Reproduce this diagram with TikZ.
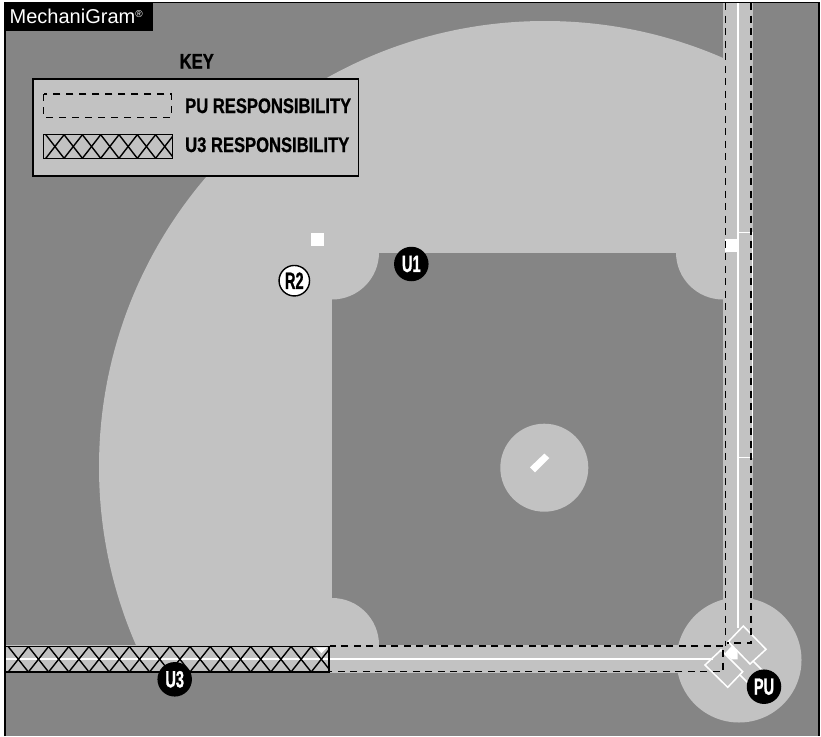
\documentclass[tikz,border=0pt]{standalone}
\usepackage{fontspec}
\setmainfont{Liberation Sans}
\newfontfamily\condfont[FakeStretch=0.79,FakeBold=0.8]{Liberation Sans Bold}
\newfontfamily\badgefont[FakeStretch=0.62,FakeBold=1]{Liberation Sans Bold}
\definecolor{fieldcolor0001}{RGB}{133,133,133}
\definecolor{fieldcolor0002}{RGB}{194,194,194}
\begin{document}
\begin{tikzpicture}[yscale=-1
,fstyle0/.style={fill=fieldcolor0001}
,fstyle1/.style={fill=fieldcolor0002}
,fstyle2/.style={color=white,line width=2.2pt}
,fstyle3/.style={color=white,line width=1.5pt}
,fstyle4/.style={color=black,line width=1.7pt,dash pattern=on 7pt off 5.5pt}
,fstyle5/.style={color=black,line width=1.4pt}
,fstyle6/.style={color=black,line width=1.4pt}
,badge/.style={circle,fill=black,text=white,inner sep=0,minimum size=34.5pt,font=\badgefont\fontsize{23.5}{23.5}\selectfont}
,keytext/.style={anchor=base west,inner sep=0,font=\condfont\fontsize{21}{21}\selectfont}
]
\useasboundingbox (0pt,0pt) rectangle (821pt,736pt);
\fill[white] (0pt,0pt) rectangle (821pt,736pt);
\fill[fstyle0] (5pt,2.5pt) rectangle (819pt,736pt);
\begin{scope}
\clip (5pt,2.5pt) rectangle (723pt,645pt);
\fill[fstyle1] (545pt,467pt) circle (446pt);
\end{scope}
\fill[fstyle0] (332pt,252.5pt) rectangle (723pt,645pt);
\fill[fstyle1] (332pt,252.5pt) -- (379pt,252.5pt) arc (0:90:47pt) -- cycle;
\fill[fstyle1] (723pt,252.5pt) -- (723pt,299.5pt) arc (90:180:47pt) -- cycle;
\fill[fstyle1] (332pt,645pt) -- (332pt,598pt) arc (270:360:47pt) -- cycle;
\fill[fstyle1] (723pt,2.5pt) rectangle (753pt,660pt);
\fill[fstyle1] (5pt,645pt) rectangle (723pt,673pt);
\fill[fstyle1] (739pt,660pt) circle (62.5pt);
\fill[fstyle1] (544.3pt,467.7pt) circle (44pt);
\fill[white] (544.3pt,453.6pt) -- (549.3pt,458pt) -- (535pt,472.3pt) -- (530pt,467.3pt) -- cycle;
\fill[white] (311.2pt,232.8pt) rectangle (324.2pt,245.8pt);
\fill[white] (725pt,239pt) rectangle (737.5pt,251.7pt);
\draw[fstyle2] (737.8pt,2.5pt) -- (737.8pt,628pt);
\draw[fstyle2] (5pt,659pt) -- (713pt,659pt);
\draw[fstyle3] (737.8pt,232.7pt) -- (752.3pt,232.7pt) -- (752.3pt,457.7pt) -- (737.8pt,457.7pt);
\draw[fstyle3] (740pt,675pt) -- (755pt,690pt);
\draw[fstyle3] (753pt,661pt) -- (768pt,676pt);
\fill[white] (725pt,653.3pt) -- (731.7pt,646pt) -- (737.5pt,650pt) -- (737.5pt,659.3pt) -- (731.7pt,659.3pt) -- cycle;
\draw[fstyle3] (743.3pt,626pt) -- (766pt,649.3pt) -- (750pt,664pt) -- (728.3pt,641.7pt) -- cycle;
\draw[fstyle3] (721pt,650pt) -- (742.7pt,671.7pt) -- (727.7pt,687.3pt) -- (705pt,665pt) -- cycle;
\draw[fstyle4] (725.5pt,3pt) -- (725.5pt,646pt);
\draw[fstyle4] (751pt,3pt) -- (751pt,643pt) -- (727pt,643pt);
\draw[fstyle4] (723pt,646pt) -- (330pt,646pt);
\draw[fstyle4] (723pt,650pt) -- (723pt,671.5pt) -- (330pt,671.5pt);
\fill[white] (315.7pt,647.3pt) -- (327.3pt,647.3pt) -- (321.5pt,653pt) -- cycle;
\begin{scope}
\clip (5pt,646.5pt) rectangle (329pt,672pt);
\foreach \hatchn in {0,...,15} {
\draw[fstyle6] ({8.2pt+\hatchn*20.2pt},646.5pt) -- ({28.4pt+\hatchn*20.2pt},672pt);
\draw[fstyle6] ({28.4pt+\hatchn*20.2pt},646.5pt) -- ({8.2pt+\hatchn*20.2pt},672pt);
}
\end{scope}
\draw[fstyle5] (5pt,646.5pt) rectangle (329pt,672pt);
\draw[fstyle5] (5pt,736pt) -- (5pt,2.5pt) -- (819pt,2.5pt) -- (819pt,736pt);
\fill[fstyle1] (33pt,79pt) rectangle (358.7pt,176pt);
\draw[fstyle5] (33pt,79pt) rectangle (358.7pt,176pt);
\draw[fstyle4,line width=1.4pt,dash pattern=on 7pt off 6pt] (43.7pt,94pt) rectangle (171.7pt,117.3pt);
\begin{scope}
\clip (43.7pt,134.7pt) rectangle (172.7pt,158.3pt);
\foreach \hatchn in {0,...,6} {
\draw[fstyle6] ({45.8pt+\hatchn*18.3pt},134.7pt) -- ({64.1pt+\hatchn*18.3pt},158.3pt);
\draw[fstyle6] ({64.1pt+\hatchn*18.3pt},134.7pt) -- ({45.8pt+\hatchn*18.3pt},158.3pt);
}
\end{scope}
\draw[fstyle5] (43.7pt,134.7pt) rectangle (172.7pt,158.3pt);
\node (keytitle) at (179.5pt,68.5pt)[keytext]{KEY};
\node (putext) at (185pt,113pt)[keytext]{PU RESPONSIBILITY};
\node (u3text) at (185pt,152pt)[keytext]{U3 RESPONSIBILITY};
\fill[black] (4.5pt,2pt) rectangle (152.7pt,30.7pt);
\node (logo) at (9.5pt,23.3pt)[anchor=base west,inner sep=0,text=white,font=\fontsize{20}{20}\selectfont]{MechaniGram\raisebox{6pt}{\fontsize{10}{10}\selectfont ®}};
\node[badge] (u1) at (411.3pt,264pt){U1};
\node[badge,fill=white,text=black,draw=black,line width=1.4pt,minimum size=30.5pt] (r2) at (294.3pt,280.7pt){R2};
\node[badge] (u3) at (174.7pt,679.3pt){U3};
\node[badge] (pu) at (764pt,686.7pt){PU};
\end{tikzpicture}
\end{document}
